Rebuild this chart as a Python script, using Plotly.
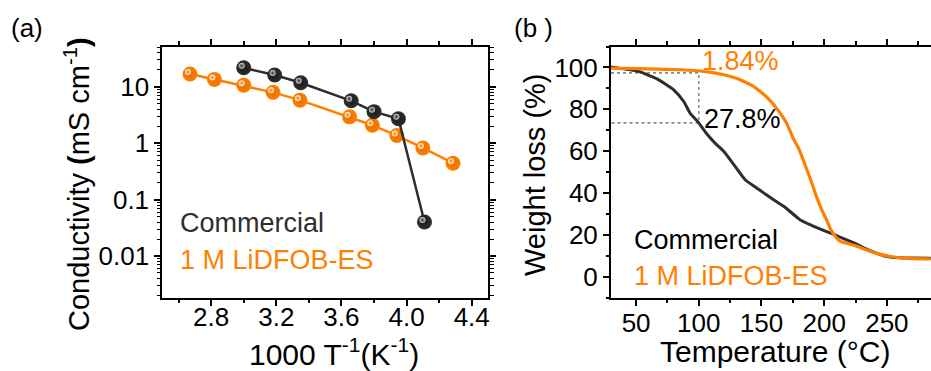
import plotly.graph_objects as go

# ---------------- data: panel (a) conductivity ----------------
inv_t_commercial = [3.00, 3.19, 3.35, 3.66, 3.80, 3.95, 4.11]
cond_commercial = [21.5, 16.0, 11.7, 5.6, 3.6, 2.7, 0.040]
inv_t_lidfob = [2.67, 2.82, 3.00, 3.18, 3.345, 3.65, 3.79, 3.94, 4.10, 4.285]
cond_lidfob = [16.7, 13.4, 10.6, 7.9, 5.75, 2.91, 2.07, 1.36, 0.82, 0.44]

# ---------------- data: panel (b) TGA ----------------
temp_commercial = [30, 40, 50, 55, 60, 67, 73, 80, 88, 93, 99, 107, 113, 120, 128, 137,
                   145, 152, 160, 168, 181, 190, 200, 210, 216, 225, 232, 240, 250, 260, 270, 285]
wt_commercial = [100.2, 99.3, 98.4, 97.5, 96.2, 94.4, 92.2, 89.3, 83.7, 78.2, 74.2, 67.8, 63.8,
                 59.8, 53.5, 46.3, 42.8, 39.9, 36.6, 33.5, 27.1, 24.5, 22.0, 19.6, 18.0, 15.8,
                 13.6, 11.6, 9.6, 9.0, 8.9, 8.8]
temp_lidfob = [30, 50, 67, 80, 99, 110, 120, 130, 136, 143, 149, 155, 160, 165, 170, 175, 180,
               185, 190, 194, 198, 202, 205, 209, 212, 218, 224, 230, 237, 245, 253, 263, 285]
wt_lidfob = [99.7, 99.4, 99.2, 99.0, 98.4, 97.6, 96.5, 94.8, 93.3, 91.2, 88.5, 85.3, 82.0, 78.0,
             73.4, 66.5, 60.8, 53.0, 45.0, 38.0, 32.0, 27.0, 22.8, 19.2, 17.2, 15.9, 15.0, 13.6,
             12.0, 10.6, 9.6, 8.8, 8.4]
guide_temp = [30, 100, 100, 30]
guide_wt = [97.4, 97.4, 73.5, 73.5]

# ticks
a_xticks = [2.8, 3.2, 3.6, 4.0, 4.4]
a_xticktext = ["2.8", "3.2", "3.6", "4.0", "4.4"]
a_xminor = [2.6, 3.0, 3.4, 3.8, 4.2]
a_yticks = [0.01, 0.1, 1, 10]
a_yticktext = ["0.01", "0.1", "1", "10"]
a_yminor = [m * 10.0 ** e for e in range(-3, 2) for m in range(2, 10)]
b_xticks = [50, 100, 150, 200, 250]
b_xminor = [75, 125, 175, 225, 275]
b_yticks = [0, 20, 40, 60, 80, 100]
b_yminor = [-10, 10, 30, 50, 70, 90, 110]

ORANGE = "#FF8000"
BLACK = "#2E2E2E"
FONT = "Liberation Sans, Arial, sans-serif"
W, H = 931, 371


def px(x):
    return x / W


def py(y):
    return 1 - y / H


A_X = [162.3, 488.0]
B_X = [611.0, 931.0]
Y_PX = [297.5, 46.5]
HL = 2.0  # highlight offset in px (up-left) for sphere look

fig = go.Figure()

# panel (a) lines + sphere-like markers
for xs, ys, col, edge, hi in [
    (inv_t_lidfob, cond_lidfob, ORANGE, "#E46E00", "#FFF0E0"),
    (inv_t_commercial, cond_commercial, BLACK, "#1A1A1A", "#D0D0D0"),
]:
    fig.add_trace(go.Scatter(
        x=xs, y=ys, xaxis="x", yaxis="y", mode="lines+markers",
        line=dict(color=col, width=2.5),
        marker=dict(size=15, color=col, gradient=dict(type="radial", color=edge),
                    line=dict(width=0)),
        showlegend=False, hoverinfo="skip"))
    fig.add_trace(go.Scatter(
        x=xs, y=ys, xaxis="x3", yaxis="y3", mode="markers",
        marker=dict(size=6, color=hi, gradient=dict(type="radial", color=col),
                    line=dict(width=0)),
        showlegend=False, hoverinfo="skip"))

# panel (b)
fig.add_trace(go.Scatter(x=guide_temp, y=guide_wt, xaxis="x2", yaxis="y2", mode="lines",
                         line=dict(color="#8A8A8A", width=1.6, dash="dot"),
                         showlegend=False, hoverinfo="skip"))
fig.add_trace(go.Scatter(x=temp_commercial, y=wt_commercial, xaxis="x2", yaxis="y2",
                         mode="lines", line=dict(color=BLACK, width=3, shape="spline", smoothing=0.6),
                         showlegend=False, hoverinfo="skip"))
fig.add_trace(go.Scatter(x=temp_lidfob, y=wt_lidfob, xaxis="x2", yaxis="y2",
                         mode="lines", line=dict(color=ORANGE, width=3.2, shape="spline", smoothing=0.6),
                         showlegend=False, hoverinfo="skip"))

axis_common = dict(showgrid=False, zeroline=False, showline=True, linecolor="black",
                   linewidth=2, ticks="outside", ticklen=6, tickwidth=1.5, tickcolor="black",
                   tickfont=dict(family=FONT, size=26, color="black"), automargin=False)
ydom = [py(Y_PX[0]), py(Y_PX[1])]

fig.update_layout(
    width=W, height=H, margin=dict(l=0, r=0, t=0, b=0, pad=0),
    paper_bgcolor="white", plot_bgcolor="rgba(0,0,0,0)",
    xaxis=dict(domain=[px(A_X[0]), px(A_X[1])], range=[2.5, 4.5], anchor="y",
               tickvals=a_xticks, ticktext=a_xticktext, ticklabelstandoff=-11,
               minor=dict(tickvals=a_xminor, ticks="outside", ticklen=3.5, tickwidth=1.5, tickcolor="black"),
               mirror="allticks", **axis_common),
    yaxis=dict(domain=ydom, type="log", range=[-2.735, 1.71], anchor="x",
               tickvals=a_yticks, ticktext=a_yticktext,
               minor=dict(tickvals=a_yminor, ticks="outside", ticklen=3.5, tickwidth=1.2, tickcolor="black"),
               mirror="allticks", **axis_common),
    xaxis2=dict(domain=[px(B_X[0]), px(B_X[1])], range=[30, 285.2], anchor="y2",
                tickvals=b_xticks, ticklabelstandoff=-5,
                minor=dict(tickvals=b_xminor, ticks="outside", ticklen=3.5, tickwidth=1.5, tickcolor="black"),
                mirror="allticks", **axis_common),
    yaxis2=dict(domain=ydom, range=[-10, 110], anchor="x2",
                tickvals=b_yticks,
                minor=dict(tickvals=b_yminor, ticks="outside", ticklen=3.5, tickwidth=1.5, tickcolor="black"),
                mirror=False, **axis_common),
    # invisible copy of panel (a) axes, shifted up-left, for the sphere highlights
    xaxis3=dict(domain=[px(A_X[0] - HL), px(A_X[1] - HL)], range=[2.5, 4.5], anchor="y3",
                visible=False, showgrid=False, zeroline=False),
    yaxis3=dict(domain=[py(Y_PX[0] - HL), py(Y_PX[1] - HL)], type="log", range=[-2.735, 1.71],
                anchor="x3", visible=False, showgrid=False, zeroline=False),
)


def ann(text, x, y, size, color="black", xanchor="center", angle=0):
    fig.add_annotation(text=text, x=px(x), y=py(y), xref="paper", yref="paper",
                       xanchor=xanchor, yanchor="middle", showarrow=False, textangle=angle,
                       font=dict(family=FONT, size=size, color=color))


# panel labels
ann("(a)", 27, 28, 26)
ann("(b )", 533, 28, 26)
# axis titles
ann("1000 T<sup>-1</sup>(K<sup>-1</sup>)", 334, 352, 30)
ann("Conductivity <b>(</b>mS cm<sup>-1</sup><b>)</b>", 77, 184, 29, angle=-90)
ann("Temperature (°C)", 775, 351, 30)
ann("Weight loss (%)", 535, 175, 29, angle=-90)
# in-plot legends
ann("Commercial", 178, 223, 27, BLACK, xanchor="left")
ann("1 M LiDFOB-ES", 178, 260, 27, ORANGE, xanchor="left")
ann("Commercial", 631.5, 240, 27, "black", xanchor="left")
ann("1 M LiDFOB-ES", 631.5, 276, 27, ORANGE, xanchor="left")
# percentages
ann("1.84%", 740.5, 61.5, 27, ORANGE)
ann("27.8%", 742.5, 118.5, 27, "black")

fig.write_html("out.html", config={"displayModeBar": False},
               post_script="document.body.style.margin='0';document.body.style.overflow='hidden';")
